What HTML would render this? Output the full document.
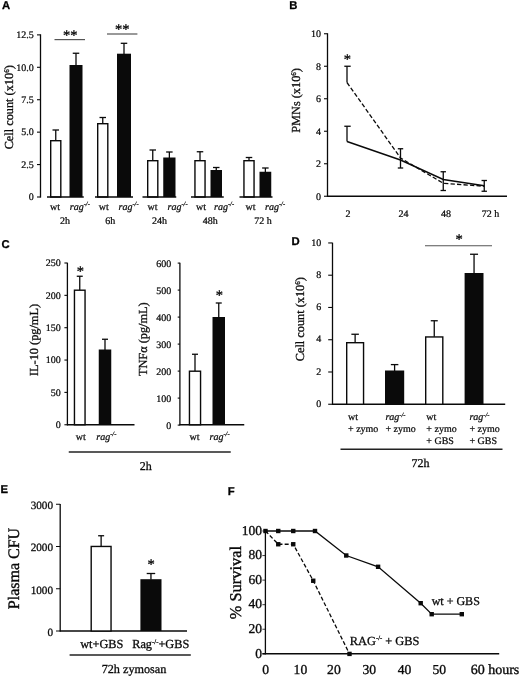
<!DOCTYPE html>
<html><head><meta charset="utf-8"><title>Figure</title>
<style>
html,body{margin:0;padding:0;background:#fff;}
body{width:520px;height:676px;overflow:hidden;font-family:"Liberation Serif",serif;}
svg{display:block;filter:blur(0.4px);}
text{white-space:pre;text-rendering:geometricPrecision;}
</style></head><body>
<svg width="520" height="676" viewBox="0 0 520 676">
<rect x="0" y="0" width="520" height="676" fill="#fff"/>
<text x="1.9" y="9.4" font-family='"Liberation Sans", sans-serif' font-size="11.3" text-anchor="start" font-weight="bold" font-style="normal" fill="#000" stroke="#000" stroke-width="0.271">A</text>
<text x="289.2" y="9.2" font-family='"Liberation Sans", sans-serif' font-size="11.3" text-anchor="start" font-weight="bold" font-style="normal" fill="#000" stroke="#000" stroke-width="0.271">B</text>
<text x="1.6" y="247.6" font-family='"Liberation Sans", sans-serif' font-size="11.3" text-anchor="start" font-weight="bold" font-style="normal" fill="#000" stroke="#000" stroke-width="0.271">C</text>
<text x="291.4" y="245.2" font-family='"Liberation Sans", sans-serif' font-size="11.3" text-anchor="start" font-weight="bold" font-style="normal" fill="#000" stroke="#000" stroke-width="0.271">D</text>
<text x="0.6" y="493" font-family='"Liberation Sans", sans-serif' font-size="11.3" text-anchor="start" font-weight="bold" font-style="normal" fill="#000" stroke="#000" stroke-width="0.271">E</text>
<text x="227.7" y="494.5" font-family='"Liberation Sans", sans-serif' font-size="11.3" text-anchor="start" font-weight="bold" font-style="normal" fill="#000" stroke="#000" stroke-width="0.271">F</text>
<line x1="40.5" y1="34.3" x2="40.5" y2="197.6" stroke="#0a0a0a" stroke-width="1.3" stroke-linecap="butt"/>
<line x1="37.0" y1="34.875" x2="40.5" y2="34.875" stroke="#0a0a0a" stroke-width="1.1" stroke-linecap="butt"/>
<text x="33.8" y="38.175" font-family='"Liberation Serif", serif' font-size="10" text-anchor="end" font-weight="normal" font-style="normal" fill="#0a0a0a" stroke="#0a0a0a" stroke-width="0.24">12.5</text>
<line x1="37.0" y1="67.29999999999998" x2="40.5" y2="67.29999999999998" stroke="#0a0a0a" stroke-width="1.1" stroke-linecap="butt"/>
<text x="33.8" y="70.59999999999998" font-family='"Liberation Serif", serif' font-size="10" text-anchor="end" font-weight="normal" font-style="normal" fill="#0a0a0a" stroke="#0a0a0a" stroke-width="0.24">10.0</text>
<line x1="37.0" y1="99.725" x2="40.5" y2="99.725" stroke="#0a0a0a" stroke-width="1.1" stroke-linecap="butt"/>
<text x="33.8" y="103.02499999999999" font-family='"Liberation Serif", serif' font-size="10" text-anchor="end" font-weight="normal" font-style="normal" fill="#0a0a0a" stroke="#0a0a0a" stroke-width="0.24">7.5</text>
<line x1="37.0" y1="132.14999999999998" x2="40.5" y2="132.14999999999998" stroke="#0a0a0a" stroke-width="1.1" stroke-linecap="butt"/>
<text x="33.8" y="135.45" font-family='"Liberation Serif", serif' font-size="10" text-anchor="end" font-weight="normal" font-style="normal" fill="#0a0a0a" stroke="#0a0a0a" stroke-width="0.24">5.0</text>
<line x1="37.0" y1="164.575" x2="40.5" y2="164.575" stroke="#0a0a0a" stroke-width="1.1" stroke-linecap="butt"/>
<text x="33.8" y="167.875" font-family='"Liberation Serif", serif' font-size="10" text-anchor="end" font-weight="normal" font-style="normal" fill="#0a0a0a" stroke="#0a0a0a" stroke-width="0.24">2.5</text>
<line x1="37.0" y1="197.0" x2="40.5" y2="197.0" stroke="#0a0a0a" stroke-width="1.1" stroke-linecap="butt"/>
<text x="33.8" y="200.3" font-family='"Liberation Serif", serif' font-size="10" text-anchor="end" font-weight="normal" font-style="normal" fill="#0a0a0a" stroke="#0a0a0a" stroke-width="0.24">0</text>
<text x="13.3" y="107.3" font-family='"Liberation Serif", serif' font-size="12.3" text-anchor="middle" font-weight="normal" font-style="normal" fill="#0a0a0a" stroke="#0a0a0a" stroke-width="0.295" transform="rotate(-90 13.3 107.3)">Cell count (x10<tspan font-size="7" dy="-4.3">6</tspan><tspan dy="4.3">)</tspan></text>
<rect x="50.7" y="140.7" width="10.1" height="56.3" fill="#fff" stroke="#0a0a0a" stroke-width="1.4"/>
<line x1="55.75" y1="130" x2="55.75" y2="140.5" stroke="#0a0a0a" stroke-width="1.3" stroke-linecap="butt"/>
<line x1="52.5" y1="130" x2="59.0" y2="130" stroke="#0a0a0a" stroke-width="1.3" stroke-linecap="butt"/>
<rect x="69.5" y="65" width="13.0" height="132" fill="#0a0a0a"/>
<line x1="76.0" y1="53.25" x2="76.0" y2="65.5" stroke="#0a0a0a" stroke-width="1.3" stroke-linecap="butt"/>
<line x1="72.75" y1="53.25" x2="79.25" y2="53.25" stroke="#0a0a0a" stroke-width="1.3" stroke-linecap="butt"/>
<rect x="97.7" y="123.7" width="10.1" height="73.3" fill="#fff" stroke="#0a0a0a" stroke-width="1.4"/>
<line x1="102.75" y1="117.5" x2="102.75" y2="123.5" stroke="#0a0a0a" stroke-width="1.3" stroke-linecap="butt"/>
<line x1="99.5" y1="117.5" x2="106.0" y2="117.5" stroke="#0a0a0a" stroke-width="1.3" stroke-linecap="butt"/>
<rect x="117" y="53.7" width="14" height="143.3" fill="#0a0a0a"/>
<line x1="124.0" y1="43.3" x2="124.0" y2="54.2" stroke="#0a0a0a" stroke-width="1.3" stroke-linecap="butt"/>
<line x1="120.75" y1="43.3" x2="127.25" y2="43.3" stroke="#0a0a0a" stroke-width="1.3" stroke-linecap="butt"/>
<rect x="147.7" y="160.7" width="10.1" height="36.3" fill="#fff" stroke="#0a0a0a" stroke-width="1.4"/>
<line x1="152.75" y1="150" x2="152.75" y2="160.5" stroke="#0a0a0a" stroke-width="1.3" stroke-linecap="butt"/>
<line x1="149.5" y1="150" x2="156.0" y2="150" stroke="#0a0a0a" stroke-width="1.3" stroke-linecap="butt"/>
<rect x="163.25" y="157.5" width="12.25" height="39.5" fill="#0a0a0a"/>
<line x1="169.375" y1="152" x2="169.375" y2="158.0" stroke="#0a0a0a" stroke-width="1.3" stroke-linecap="butt"/>
<line x1="166.125" y1="152" x2="172.625" y2="152" stroke="#0a0a0a" stroke-width="1.3" stroke-linecap="butt"/>
<rect x="194.95" y="160.7" width="10.1" height="36.3" fill="#fff" stroke="#0a0a0a" stroke-width="1.4"/>
<line x1="200.0" y1="151.75" x2="200.0" y2="160.5" stroke="#0a0a0a" stroke-width="1.3" stroke-linecap="butt"/>
<line x1="196.75" y1="151.75" x2="203.25" y2="151.75" stroke="#0a0a0a" stroke-width="1.3" stroke-linecap="butt"/>
<rect x="210.5" y="170" width="11.5" height="27" fill="#0a0a0a"/>
<line x1="216.25" y1="167.5" x2="216.25" y2="170.5" stroke="#0a0a0a" stroke-width="1.3" stroke-linecap="butt"/>
<line x1="213.0" y1="167.5" x2="219.5" y2="167.5" stroke="#0a0a0a" stroke-width="1.3" stroke-linecap="butt"/>
<rect x="243.95" y="160.7" width="10.1" height="36.3" fill="#fff" stroke="#0a0a0a" stroke-width="1.4"/>
<line x1="249.0" y1="157.5" x2="249.0" y2="160.5" stroke="#0a0a0a" stroke-width="1.3" stroke-linecap="butt"/>
<line x1="245.75" y1="157.5" x2="252.25" y2="157.5" stroke="#0a0a0a" stroke-width="1.3" stroke-linecap="butt"/>
<rect x="259.5" y="171.75" width="11.75" height="25.25" fill="#0a0a0a"/>
<line x1="265.375" y1="168" x2="265.375" y2="172.25" stroke="#0a0a0a" stroke-width="1.3" stroke-linecap="butt"/>
<line x1="262.125" y1="168" x2="268.625" y2="168" stroke="#0a0a0a" stroke-width="1.3" stroke-linecap="butt"/>
<line x1="47" y1="197" x2="83.75" y2="197" stroke="#0a0a0a" stroke-width="1.3" stroke-linecap="butt"/>
<line x1="95" y1="197" x2="133" y2="197" stroke="#0a0a0a" stroke-width="1.3" stroke-linecap="butt"/>
<line x1="142.5" y1="197" x2="176.25" y2="197" stroke="#0a0a0a" stroke-width="1.3" stroke-linecap="butt"/>
<line x1="191" y1="197" x2="223.75" y2="197" stroke="#0a0a0a" stroke-width="1.3" stroke-linecap="butt"/>
<line x1="239.5" y1="197" x2="272.5" y2="197" stroke="#0a0a0a" stroke-width="1.3" stroke-linecap="butt"/>
<line x1="54.5" y1="39.6" x2="85" y2="39.6" stroke="#555" stroke-width="1.2" stroke-linecap="butt"/>
<line x1="107" y1="34" x2="137.4" y2="34" stroke="#555" stroke-width="1.2" stroke-linecap="butt"/>
<text x="70.2" y="40.2" font-family='"Liberation Serif", serif' font-size="14.5" text-anchor="middle" font-weight="normal" font-style="normal" fill="#0a0a0a" stroke="#0a0a0a" stroke-width="0.348">**</text>
<text x="122.2" y="34.4" font-family='"Liberation Serif", serif' font-size="14.5" text-anchor="middle" font-weight="normal" font-style="normal" fill="#0a0a0a" stroke="#0a0a0a" stroke-width="0.348">**</text>
<text x="50" y="210" font-family='"Liberation Serif", serif' font-size="10" text-anchor="start" font-weight="normal" font-style="normal" fill="#0a0a0a" stroke="#0a0a0a" stroke-width="0.24">wt</text>
<text x="98.7" y="210" font-family='"Liberation Serif", serif' font-size="10" text-anchor="start" font-weight="normal" font-style="normal" fill="#0a0a0a" stroke="#0a0a0a" stroke-width="0.24">wt</text>
<text x="147.5" y="210" font-family='"Liberation Serif", serif' font-size="10" text-anchor="start" font-weight="normal" font-style="normal" fill="#0a0a0a" stroke="#0a0a0a" stroke-width="0.24">wt</text>
<text x="196" y="210" font-family='"Liberation Serif", serif' font-size="10" text-anchor="start" font-weight="normal" font-style="normal" fill="#0a0a0a" stroke="#0a0a0a" stroke-width="0.24">wt</text>
<text x="245.5" y="210" font-family='"Liberation Serif", serif' font-size="10" text-anchor="start" font-weight="normal" font-style="normal" fill="#0a0a0a" stroke="#0a0a0a" stroke-width="0.24">wt</text>
<text x="69.8" y="210" font-family='"Liberation Serif", serif' font-size="10" text-anchor="start" font-weight="normal" font-style="normal" fill="#0a0a0a" stroke="#0a0a0a" stroke-width="0.24"><tspan font-style="italic">rag</tspan><tspan font-style="italic" font-size="6.5" dy="-3.5999999999999996">-/-</tspan></text>
<text x="118.5" y="210" font-family='"Liberation Serif", serif' font-size="10" text-anchor="start" font-weight="normal" font-style="normal" fill="#0a0a0a" stroke="#0a0a0a" stroke-width="0.24"><tspan font-style="italic">rag</tspan><tspan font-style="italic" font-size="6.5" dy="-3.5999999999999996">-/-</tspan></text>
<text x="167.5" y="210" font-family='"Liberation Serif", serif' font-size="10" text-anchor="start" font-weight="normal" font-style="normal" fill="#0a0a0a" stroke="#0a0a0a" stroke-width="0.24"><tspan font-style="italic">rag</tspan><tspan font-style="italic" font-size="6.5" dy="-3.5999999999999996">-/-</tspan></text>
<text x="214" y="210" font-family='"Liberation Serif", serif' font-size="10" text-anchor="start" font-weight="normal" font-style="normal" fill="#0a0a0a" stroke="#0a0a0a" stroke-width="0.24"><tspan font-style="italic">rag</tspan><tspan font-style="italic" font-size="6.5" dy="-3.5999999999999996">-/-</tspan></text>
<text x="265" y="210" font-family='"Liberation Serif", serif' font-size="10" text-anchor="start" font-weight="normal" font-style="normal" fill="#0a0a0a" stroke="#0a0a0a" stroke-width="0.24"><tspan font-style="italic">rag</tspan><tspan font-style="italic" font-size="6.5" dy="-3.5999999999999996">-/-</tspan></text>
<text x="65" y="224" font-family='"Liberation Serif", serif' font-size="10" text-anchor="middle" font-weight="normal" font-style="normal" fill="#0a0a0a" stroke="#0a0a0a" stroke-width="0.24">2h</text>
<text x="110.2" y="224" font-family='"Liberation Serif", serif' font-size="10" text-anchor="middle" font-weight="normal" font-style="normal" fill="#0a0a0a" stroke="#0a0a0a" stroke-width="0.24">6h</text>
<text x="159.5" y="224" font-family='"Liberation Serif", serif' font-size="10" text-anchor="middle" font-weight="normal" font-style="normal" fill="#0a0a0a" stroke="#0a0a0a" stroke-width="0.24">24h</text>
<text x="210.2" y="224" font-family='"Liberation Serif", serif' font-size="10" text-anchor="middle" font-weight="normal" font-style="normal" fill="#0a0a0a" stroke="#0a0a0a" stroke-width="0.24">48h</text>
<text x="263" y="224" font-family='"Liberation Serif", serif' font-size="10" text-anchor="middle" font-weight="normal" font-style="normal" fill="#0a0a0a" stroke="#0a0a0a" stroke-width="0.24">72 h</text>
<line x1="327.5" y1="33.25" x2="327.5" y2="196.85" stroke="#0a0a0a" stroke-width="1.3" stroke-linecap="butt"/>
<line x1="327.0" y1="196.25" x2="507" y2="196.25" stroke="#0a0a0a" stroke-width="1.3" stroke-linecap="butt"/>
<line x1="324.0" y1="196.25" x2="327.5" y2="196.25" stroke="#0a0a0a" stroke-width="1.1" stroke-linecap="butt"/>
<text x="321" y="199.65" font-family='"Liberation Serif", serif' font-size="10" text-anchor="end" font-weight="normal" font-style="normal" fill="#0a0a0a" stroke="#0a0a0a" stroke-width="0.24">0</text>
<line x1="324.0" y1="163.75" x2="327.5" y2="163.75" stroke="#0a0a0a" stroke-width="1.1" stroke-linecap="butt"/>
<text x="321" y="167.15" font-family='"Liberation Serif", serif' font-size="10" text-anchor="end" font-weight="normal" font-style="normal" fill="#0a0a0a" stroke="#0a0a0a" stroke-width="0.24">2</text>
<line x1="324.0" y1="131.25" x2="327.5" y2="131.25" stroke="#0a0a0a" stroke-width="1.1" stroke-linecap="butt"/>
<text x="321" y="134.65" font-family='"Liberation Serif", serif' font-size="10" text-anchor="end" font-weight="normal" font-style="normal" fill="#0a0a0a" stroke="#0a0a0a" stroke-width="0.24">4</text>
<line x1="324.0" y1="98.75" x2="327.5" y2="98.75" stroke="#0a0a0a" stroke-width="1.1" stroke-linecap="butt"/>
<text x="321" y="102.15" font-family='"Liberation Serif", serif' font-size="10" text-anchor="end" font-weight="normal" font-style="normal" fill="#0a0a0a" stroke="#0a0a0a" stroke-width="0.24">6</text>
<line x1="324.0" y1="66.25" x2="327.5" y2="66.25" stroke="#0a0a0a" stroke-width="1.1" stroke-linecap="butt"/>
<text x="321" y="69.65" font-family='"Liberation Serif", serif' font-size="10" text-anchor="end" font-weight="normal" font-style="normal" fill="#0a0a0a" stroke="#0a0a0a" stroke-width="0.24">8</text>
<line x1="324.0" y1="33.75" x2="327.5" y2="33.75" stroke="#0a0a0a" stroke-width="1.1" stroke-linecap="butt"/>
<text x="321" y="37.15" font-family='"Liberation Serif", serif' font-size="10" text-anchor="end" font-weight="normal" font-style="normal" fill="#0a0a0a" stroke="#0a0a0a" stroke-width="0.24">10</text>
<text x="300.4" y="100.4" font-family='"Liberation Serif", serif' font-size="12.3" text-anchor="middle" font-weight="normal" font-style="normal" fill="#0a0a0a" stroke="#0a0a0a" stroke-width="0.295" transform="rotate(-90 300.4 100.4)">PMNs (x10<tspan font-size="7" dy="-4.3">6</tspan><tspan dy="4.3">)</tspan></text>
<polyline fill="none" stroke="#0a0a0a" stroke-width="1.4" points="347,141.5 400.5,160 443.25,179.5 484.25,185.75"/>
<polyline fill="none" stroke="#0a0a0a" stroke-width="1.3" stroke-dasharray="4.3 2.2" points="347,82.5 400.5,158 443.25,183.25 484.25,186.25"/>
<line x1="347" y1="66.25" x2="347" y2="82.5" stroke="#0a0a0a" stroke-width="1.3" stroke-linecap="butt"/>
<line x1="344.3" y1="66.25" x2="350.7" y2="66.25" stroke="#0a0a0a" stroke-width="1.3" stroke-linecap="butt"/>
<line x1="347" y1="126.25" x2="347" y2="141.5" stroke="#0a0a0a" stroke-width="1.3" stroke-linecap="butt"/>
<line x1="344.3" y1="126.25" x2="350.7" y2="126.25" stroke="#0a0a0a" stroke-width="1.3" stroke-linecap="butt"/>
<line x1="400.5" y1="148.75" x2="400.5" y2="168" stroke="#0a0a0a" stroke-width="1.3" stroke-linecap="butt"/>
<line x1="397.8" y1="148.75" x2="403.2" y2="148.75" stroke="#0a0a0a" stroke-width="1.3" stroke-linecap="butt"/>
<line x1="397.8" y1="168" x2="403.2" y2="168" stroke="#0a0a0a" stroke-width="1.3" stroke-linecap="butt"/>
<line x1="443.25" y1="171.75" x2="443.25" y2="190.5" stroke="#0a0a0a" stroke-width="1.3" stroke-linecap="butt"/>
<line x1="440.55" y1="171.75" x2="445.95" y2="171.75" stroke="#0a0a0a" stroke-width="1.3" stroke-linecap="butt"/>
<line x1="440.55" y1="190.5" x2="445.95" y2="190.5" stroke="#0a0a0a" stroke-width="1.3" stroke-linecap="butt"/>
<line x1="484.25" y1="180.5" x2="484.25" y2="191.25" stroke="#0a0a0a" stroke-width="1.3" stroke-linecap="butt"/>
<line x1="481.55" y1="180.5" x2="486.95" y2="180.5" stroke="#0a0a0a" stroke-width="1.3" stroke-linecap="butt"/>
<line x1="481.55" y1="191.25" x2="486.95" y2="191.25" stroke="#0a0a0a" stroke-width="1.3" stroke-linecap="butt"/>
<text x="347.4" y="64.3" font-family='"Liberation Serif", serif' font-size="14.5" text-anchor="middle" font-weight="normal" font-style="normal" fill="#0a0a0a" stroke="#0a0a0a" stroke-width="0.348">*</text>
<text x="348" y="217" font-family='"Liberation Serif", serif' font-size="10" text-anchor="middle" font-weight="normal" font-style="normal" fill="#0a0a0a" stroke="#0a0a0a" stroke-width="0.24">2</text>
<text x="403.5" y="217" font-family='"Liberation Serif", serif' font-size="10" text-anchor="middle" font-weight="normal" font-style="normal" fill="#0a0a0a" stroke="#0a0a0a" stroke-width="0.24">24</text>
<text x="446" y="217" font-family='"Liberation Serif", serif' font-size="10" text-anchor="middle" font-weight="normal" font-style="normal" fill="#0a0a0a" stroke="#0a0a0a" stroke-width="0.24">48</text>
<text x="490.5" y="217" font-family='"Liberation Serif", serif' font-size="10" text-anchor="middle" font-weight="normal" font-style="normal" fill="#0a0a0a" stroke="#0a0a0a" stroke-width="0.24">72 h</text>
<line x1="67.4" y1="262.75" x2="67.4" y2="425.35" stroke="#0a0a0a" stroke-width="1.3" stroke-linecap="butt"/>
<line x1="66.9" y1="424.75" x2="134.5" y2="424.75" stroke="#0a0a0a" stroke-width="1.3" stroke-linecap="butt"/>
<line x1="64.4" y1="424.75" x2="67.4" y2="424.75" stroke="#0a0a0a" stroke-width="1.1" stroke-linecap="butt"/>
<text x="60.8" y="428.15" font-family='"Liberation Serif", serif' font-size="10" text-anchor="end" font-weight="normal" font-style="normal" fill="#0a0a0a" stroke="#0a0a0a" stroke-width="0.24">0</text>
<line x1="64.4" y1="392.4" x2="67.4" y2="392.4" stroke="#0a0a0a" stroke-width="1.1" stroke-linecap="butt"/>
<text x="60.8" y="395.79999999999995" font-family='"Liberation Serif", serif' font-size="10" text-anchor="end" font-weight="normal" font-style="normal" fill="#0a0a0a" stroke="#0a0a0a" stroke-width="0.24">50</text>
<line x1="64.4" y1="360.05" x2="67.4" y2="360.05" stroke="#0a0a0a" stroke-width="1.1" stroke-linecap="butt"/>
<text x="60.8" y="363.45" font-family='"Liberation Serif", serif' font-size="10" text-anchor="end" font-weight="normal" font-style="normal" fill="#0a0a0a" stroke="#0a0a0a" stroke-width="0.24">100</text>
<line x1="64.4" y1="327.7" x2="67.4" y2="327.7" stroke="#0a0a0a" stroke-width="1.1" stroke-linecap="butt"/>
<text x="60.8" y="331.09999999999997" font-family='"Liberation Serif", serif' font-size="10" text-anchor="end" font-weight="normal" font-style="normal" fill="#0a0a0a" stroke="#0a0a0a" stroke-width="0.24">150</text>
<line x1="64.4" y1="295.35" x2="67.4" y2="295.35" stroke="#0a0a0a" stroke-width="1.1" stroke-linecap="butt"/>
<text x="60.8" y="298.75" font-family='"Liberation Serif", serif' font-size="10" text-anchor="end" font-weight="normal" font-style="normal" fill="#0a0a0a" stroke="#0a0a0a" stroke-width="0.24">200</text>
<line x1="64.4" y1="263.0" x2="67.4" y2="263.0" stroke="#0a0a0a" stroke-width="1.1" stroke-linecap="butt"/>
<text x="60.8" y="266.4" font-family='"Liberation Serif", serif' font-size="10" text-anchor="end" font-weight="normal" font-style="normal" fill="#0a0a0a" stroke="#0a0a0a" stroke-width="0.24">250</text>
<text x="37.5" y="340" font-family='"Liberation Serif", serif' font-size="12.3" text-anchor="middle" font-weight="normal" font-style="normal" fill="#0a0a0a" stroke="#0a0a0a" stroke-width="0.295" transform="rotate(-90 37.5 340)">IL-10 (pg/mL)</text>
<rect x="74.45" y="290.2" width="10.6" height="134.55" fill="#fff" stroke="#0a0a0a" stroke-width="1.4"/>
<line x1="79.75" y1="276.25" x2="79.75" y2="290.0" stroke="#0a0a0a" stroke-width="1.3" stroke-linecap="butt"/>
<line x1="76.75" y1="276.25" x2="82.75" y2="276.25" stroke="#0a0a0a" stroke-width="1.3" stroke-linecap="butt"/>
<rect x="98.75" y="349.5" width="12.5" height="75.25" fill="#0a0a0a"/>
<line x1="105.0" y1="339.25" x2="105.0" y2="350.0" stroke="#0a0a0a" stroke-width="1.3" stroke-linecap="butt"/>
<line x1="102.0" y1="339.25" x2="108.0" y2="339.25" stroke="#0a0a0a" stroke-width="1.3" stroke-linecap="butt"/>
<text x="80.4" y="276" font-family='"Liberation Serif", serif' font-size="14.5" text-anchor="middle" font-weight="normal" font-style="normal" fill="#0a0a0a" stroke="#0a0a0a" stroke-width="0.348">*</text>
<text x="75.75" y="439.5" font-family='"Liberation Serif", serif' font-size="10" text-anchor="start" font-weight="normal" font-style="normal" fill="#0a0a0a" stroke="#0a0a0a" stroke-width="0.24">wt</text>
<text x="96.25" y="439.5" font-family='"Liberation Serif", serif' font-size="10" text-anchor="start" font-weight="normal" font-style="normal" fill="#0a0a0a" stroke="#0a0a0a" stroke-width="0.24"><tspan font-style="italic">rag</tspan><tspan font-style="italic" font-size="6.5" dy="-3.5999999999999996">-/-</tspan></text>
<line x1="179.9" y1="262.75" x2="179.9" y2="425.35" stroke="#0a0a0a" stroke-width="1.3" stroke-linecap="butt"/>
<line x1="179.4" y1="424.75" x2="244.25" y2="424.75" stroke="#0a0a0a" stroke-width="1.3" stroke-linecap="butt"/>
<line x1="177.70000000000002" y1="425.1" x2="179.9" y2="425.1" stroke="#0a0a0a" stroke-width="1.1" stroke-linecap="butt"/>
<text x="171.2" y="428.5" font-family='"Liberation Serif", serif' font-size="10" text-anchor="end" font-weight="normal" font-style="normal" fill="#0a0a0a" stroke="#0a0a0a" stroke-width="0.24">0</text>
<line x1="177.70000000000002" y1="398.1" x2="179.9" y2="398.1" stroke="#0a0a0a" stroke-width="1.1" stroke-linecap="butt"/>
<text x="171.2" y="401.5" font-family='"Liberation Serif", serif' font-size="10" text-anchor="end" font-weight="normal" font-style="normal" fill="#0a0a0a" stroke="#0a0a0a" stroke-width="0.24">100</text>
<line x1="177.70000000000002" y1="371.1" x2="179.9" y2="371.1" stroke="#0a0a0a" stroke-width="1.1" stroke-linecap="butt"/>
<text x="171.2" y="374.5" font-family='"Liberation Serif", serif' font-size="10" text-anchor="end" font-weight="normal" font-style="normal" fill="#0a0a0a" stroke="#0a0a0a" stroke-width="0.24">200</text>
<line x1="177.70000000000002" y1="344.1" x2="179.9" y2="344.1" stroke="#0a0a0a" stroke-width="1.1" stroke-linecap="butt"/>
<text x="171.2" y="347.5" font-family='"Liberation Serif", serif' font-size="10" text-anchor="end" font-weight="normal" font-style="normal" fill="#0a0a0a" stroke="#0a0a0a" stroke-width="0.24">300</text>
<line x1="177.70000000000002" y1="317.1" x2="179.9" y2="317.1" stroke="#0a0a0a" stroke-width="1.1" stroke-linecap="butt"/>
<text x="171.2" y="320.5" font-family='"Liberation Serif", serif' font-size="10" text-anchor="end" font-weight="normal" font-style="normal" fill="#0a0a0a" stroke="#0a0a0a" stroke-width="0.24">400</text>
<line x1="177.70000000000002" y1="290.1" x2="179.9" y2="290.1" stroke="#0a0a0a" stroke-width="1.1" stroke-linecap="butt"/>
<text x="171.2" y="293.5" font-family='"Liberation Serif", serif' font-size="10" text-anchor="end" font-weight="normal" font-style="normal" fill="#0a0a0a" stroke="#0a0a0a" stroke-width="0.24">500</text>
<line x1="177.70000000000002" y1="263.1" x2="179.9" y2="263.1" stroke="#0a0a0a" stroke-width="1.1" stroke-linecap="butt"/>
<text x="171.2" y="266.5" font-family='"Liberation Serif", serif' font-size="10" text-anchor="end" font-weight="normal" font-style="normal" fill="#0a0a0a" stroke="#0a0a0a" stroke-width="0.24">600</text>
<text x="146.6" y="339.2" font-family='"Liberation Serif", serif' font-size="12.3" text-anchor="middle" font-weight="normal" font-style="normal" fill="#0a0a0a" stroke="#0a0a0a" stroke-width="0.295" transform="rotate(-90 146.6 339.2)">TNF&#945; (pg/mL)</text>
<rect x="189.45" y="371.2" width="11.1" height="53.55" fill="#fff" stroke="#0a0a0a" stroke-width="1.4"/>
<line x1="195.0" y1="354.25" x2="195.0" y2="371.0" stroke="#0a0a0a" stroke-width="1.3" stroke-linecap="butt"/>
<line x1="192.0" y1="354.25" x2="198.0" y2="354.25" stroke="#0a0a0a" stroke-width="1.3" stroke-linecap="butt"/>
<rect x="212.5" y="317" width="12.5" height="107.75" fill="#0a0a0a"/>
<line x1="218.75" y1="303" x2="218.75" y2="317.5" stroke="#0a0a0a" stroke-width="1.3" stroke-linecap="butt"/>
<line x1="215.75" y1="303" x2="221.75" y2="303" stroke="#0a0a0a" stroke-width="1.3" stroke-linecap="butt"/>
<text x="219.3" y="300.1" font-family='"Liberation Serif", serif' font-size="14.5" text-anchor="middle" font-weight="normal" font-style="normal" fill="#0a0a0a" stroke="#0a0a0a" stroke-width="0.348">*</text>
<text x="189.5" y="439.5" font-family='"Liberation Serif", serif' font-size="10" text-anchor="start" font-weight="normal" font-style="normal" fill="#0a0a0a" stroke="#0a0a0a" stroke-width="0.24">wt</text>
<text x="209.5" y="439.5" font-family='"Liberation Serif", serif' font-size="10" text-anchor="start" font-weight="normal" font-style="normal" fill="#0a0a0a" stroke="#0a0a0a" stroke-width="0.24"><tspan font-style="italic">rag</tspan><tspan font-style="italic" font-size="6.5" dy="-3.5999999999999996">-/-</tspan></text>
<line x1="68.75" y1="452" x2="230.75" y2="452" stroke="#222" stroke-width="1.4" stroke-linecap="butt"/>
<text x="145.8" y="469.5" font-family='"Liberation Serif", serif' font-size="12" text-anchor="middle" font-weight="normal" font-style="normal" fill="#0a0a0a" stroke="#0a0a0a" stroke-width="0.288">2h</text>
<line x1="332.5" y1="242.75" x2="332.5" y2="404.85" stroke="#0a0a0a" stroke-width="1.3" stroke-linecap="butt"/>
<line x1="332.0" y1="404.25" x2="505.2" y2="404.25" stroke="#0a0a0a" stroke-width="1.3" stroke-linecap="butt"/>
<line x1="328.2" y1="404.25" x2="332.5" y2="404.25" stroke="#0a0a0a" stroke-width="1.1" stroke-linecap="butt"/>
<text x="321.3" y="406.95" font-family='"Liberation Serif", serif' font-size="10" text-anchor="end" font-weight="normal" font-style="normal" fill="#0a0a0a" stroke="#0a0a0a" stroke-width="0.24">0</text>
<line x1="328.2" y1="371.99" x2="332.5" y2="371.99" stroke="#0a0a0a" stroke-width="1.1" stroke-linecap="butt"/>
<text x="321.3" y="374.69" font-family='"Liberation Serif", serif' font-size="10" text-anchor="end" font-weight="normal" font-style="normal" fill="#0a0a0a" stroke="#0a0a0a" stroke-width="0.24">2</text>
<line x1="328.2" y1="339.73" x2="332.5" y2="339.73" stroke="#0a0a0a" stroke-width="1.1" stroke-linecap="butt"/>
<text x="321.3" y="342.43" font-family='"Liberation Serif", serif' font-size="10" text-anchor="end" font-weight="normal" font-style="normal" fill="#0a0a0a" stroke="#0a0a0a" stroke-width="0.24">4</text>
<line x1="328.2" y1="307.47" x2="332.5" y2="307.47" stroke="#0a0a0a" stroke-width="1.1" stroke-linecap="butt"/>
<text x="321.3" y="310.17" font-family='"Liberation Serif", serif' font-size="10" text-anchor="end" font-weight="normal" font-style="normal" fill="#0a0a0a" stroke="#0a0a0a" stroke-width="0.24">6</text>
<line x1="328.2" y1="275.21000000000004" x2="332.5" y2="275.21000000000004" stroke="#0a0a0a" stroke-width="1.1" stroke-linecap="butt"/>
<text x="321.3" y="277.91" font-family='"Liberation Serif", serif' font-size="10" text-anchor="end" font-weight="normal" font-style="normal" fill="#0a0a0a" stroke="#0a0a0a" stroke-width="0.24">8</text>
<line x1="328.2" y1="242.95000000000002" x2="332.5" y2="242.95000000000002" stroke="#0a0a0a" stroke-width="1.1" stroke-linecap="butt"/>
<text x="321.3" y="245.65" font-family='"Liberation Serif", serif' font-size="10" text-anchor="end" font-weight="normal" font-style="normal" fill="#0a0a0a" stroke="#0a0a0a" stroke-width="0.24">10</text>
<text x="304.2" y="319.2" font-family='"Liberation Serif", serif' font-size="12.3" text-anchor="middle" font-weight="normal" font-style="normal" fill="#0a0a0a" stroke="#0a0a0a" stroke-width="0.295" transform="rotate(-90 304.2 319.2)">Cell count (x10<tspan font-size="7" dy="-4.3">6</tspan><tspan dy="4.3">)</tspan></text>
<rect x="346.7" y="342.7" width="16.85" height="61.55" fill="#fff" stroke="#0a0a0a" stroke-width="1.4"/>
<line x1="355.125" y1="334.25" x2="355.125" y2="342.5" stroke="#0a0a0a" stroke-width="1.3" stroke-linecap="butt"/>
<line x1="351.375" y1="334.25" x2="358.875" y2="334.25" stroke="#0a0a0a" stroke-width="1.3" stroke-linecap="butt"/>
<rect x="385" y="370.5" width="19.19999999999999" height="33.75" fill="#0a0a0a"/>
<line x1="394.6" y1="364.6" x2="394.6" y2="371.0" stroke="#0a0a0a" stroke-width="1.3" stroke-linecap="butt"/>
<line x1="390.85" y1="364.6" x2="398.35" y2="364.6" stroke="#0a0a0a" stroke-width="1.3" stroke-linecap="butt"/>
<rect x="425.7" y="336.95" width="17.1" height="67.3" fill="#fff" stroke="#0a0a0a" stroke-width="1.4"/>
<line x1="434.25" y1="320.75" x2="434.25" y2="336.75" stroke="#0a0a0a" stroke-width="1.3" stroke-linecap="butt"/>
<line x1="430.75" y1="320.75" x2="437.75" y2="320.75" stroke="#0a0a0a" stroke-width="1.3" stroke-linecap="butt"/>
<rect x="464.6" y="273" width="18.899999999999977" height="131.25" fill="#0a0a0a"/>
<line x1="474.05" y1="254.25" x2="474.05" y2="273.5" stroke="#0a0a0a" stroke-width="1.3" stroke-linecap="butt"/>
<line x1="470.05" y1="254.25" x2="478.05" y2="254.25" stroke="#0a0a0a" stroke-width="1.3" stroke-linecap="butt"/>
<line x1="425" y1="245.75" x2="492" y2="245.75" stroke="#555" stroke-width="1.2" stroke-linecap="butt"/>
<text x="459" y="244.3" font-family='"Liberation Serif", serif' font-size="14.5" text-anchor="middle" font-weight="normal" font-style="normal" fill="#0a0a0a" stroke="#0a0a0a" stroke-width="0.348">*</text>
<text x="348" y="420.3" font-family='"Liberation Serif", serif' font-size="10" text-anchor="start" font-weight="normal" font-style="normal" fill="#0a0a0a" stroke="#0a0a0a" stroke-width="0.24">wt</text>
<text x="348" y="431.8" font-family='"Liberation Serif", serif' font-size="10" text-anchor="start" font-weight="normal" font-style="normal" fill="#0a0a0a" stroke="#0a0a0a" stroke-width="0.24">+ zymo</text>
<text x="385.4" y="420.3" font-family='"Liberation Serif", serif' font-size="10" text-anchor="start" font-weight="normal" font-style="normal" fill="#0a0a0a" stroke="#0a0a0a" stroke-width="0.24"><tspan font-style="italic">rag</tspan><tspan font-style="italic" font-size="6.5" dy="-3.5999999999999996">-/-</tspan></text>
<text x="385.4" y="431.8" font-family='"Liberation Serif", serif' font-size="10" text-anchor="start" font-weight="normal" font-style="normal" fill="#0a0a0a" stroke="#0a0a0a" stroke-width="0.24">+ zymo</text>
<text x="426.3" y="420.3" font-family='"Liberation Serif", serif' font-size="10" text-anchor="start" font-weight="normal" font-style="normal" fill="#0a0a0a" stroke="#0a0a0a" stroke-width="0.24">wt</text>
<text x="426.3" y="431.8" font-family='"Liberation Serif", serif' font-size="10" text-anchor="start" font-weight="normal" font-style="normal" fill="#0a0a0a" stroke="#0a0a0a" stroke-width="0.24">+ zymo</text>
<text x="426.3" y="443.7" font-family='"Liberation Serif", serif' font-size="10" text-anchor="start" font-weight="normal" font-style="normal" fill="#0a0a0a" stroke="#0a0a0a" stroke-width="0.24">+ GBS</text>
<text x="469.4" y="420.3" font-family='"Liberation Serif", serif' font-size="10" text-anchor="start" font-weight="normal" font-style="normal" fill="#0a0a0a" stroke="#0a0a0a" stroke-width="0.24"><tspan font-style="italic">rag</tspan><tspan font-style="italic" font-size="6.5" dy="-3.5999999999999996">-/-</tspan></text>
<text x="469.4" y="431.8" font-family='"Liberation Serif", serif' font-size="10" text-anchor="start" font-weight="normal" font-style="normal" fill="#0a0a0a" stroke="#0a0a0a" stroke-width="0.24">+ zymo</text>
<text x="469.4" y="443.7" font-family='"Liberation Serif", serif' font-size="10" text-anchor="start" font-weight="normal" font-style="normal" fill="#0a0a0a" stroke="#0a0a0a" stroke-width="0.24">+ GBS</text>
<line x1="340.5" y1="449.3" x2="502.5" y2="449.3" stroke="#222" stroke-width="1.4" stroke-linecap="butt"/>
<text x="420.5" y="466.5" font-family='"Liberation Serif", serif' font-size="12" text-anchor="middle" font-weight="normal" font-style="normal" fill="#0a0a0a" stroke="#0a0a0a" stroke-width="0.288">72h</text>
<line x1="60.2" y1="504" x2="60.2" y2="631.6" stroke="#0a0a0a" stroke-width="1.3" stroke-linecap="butt"/>
<line x1="59.7" y1="631" x2="187" y2="631" stroke="#0a0a0a" stroke-width="1.3" stroke-linecap="butt"/>
<line x1="56.0" y1="631.0" x2="60.2" y2="631.0" stroke="#0a0a0a" stroke-width="1" stroke-linecap="butt"/>
<text x="53" y="635.9" font-family='"Liberation Serif", serif' font-size="11.2" text-anchor="end" font-weight="normal" font-style="normal" fill="#0a0a0a" stroke="#0a0a0a" stroke-width="0.269">0</text>
<line x1="56.0" y1="588.75" x2="60.2" y2="588.75" stroke="#0a0a0a" stroke-width="1" stroke-linecap="butt"/>
<text x="53" y="593.65" font-family='"Liberation Serif", serif' font-size="11.2" text-anchor="end" font-weight="normal" font-style="normal" fill="#0a0a0a" stroke="#0a0a0a" stroke-width="0.269">1000</text>
<line x1="56.0" y1="546.5" x2="60.2" y2="546.5" stroke="#0a0a0a" stroke-width="1" stroke-linecap="butt"/>
<text x="53" y="551.4" font-family='"Liberation Serif", serif' font-size="11.2" text-anchor="end" font-weight="normal" font-style="normal" fill="#0a0a0a" stroke="#0a0a0a" stroke-width="0.269">2000</text>
<line x1="56.0" y1="504.25" x2="60.2" y2="504.25" stroke="#0a0a0a" stroke-width="1" stroke-linecap="butt"/>
<text x="53" y="509.15" font-family='"Liberation Serif", serif' font-size="11.2" text-anchor="end" font-weight="normal" font-style="normal" fill="#0a0a0a" stroke="#0a0a0a" stroke-width="0.269">3000</text>
<text x="19.4" y="568.5" font-family='"Liberation Serif", serif' font-size="16" text-anchor="middle" font-weight="normal" font-style="normal" fill="#0a0a0a" stroke="#0a0a0a" stroke-width="0.384" transform="rotate(-90 19.4 568.5)">Plasma CFU</text>
<rect x="91.2" y="546.45" width="19.85" height="84.55" fill="#fff" stroke="#0a0a0a" stroke-width="1.4"/>
<line x1="101.125" y1="535.75" x2="101.125" y2="546.25" stroke="#0a0a0a" stroke-width="1.3" stroke-linecap="butt"/>
<line x1="98.125" y1="535.75" x2="104.125" y2="535.75" stroke="#0a0a0a" stroke-width="1.3" stroke-linecap="butt"/>
<rect x="140.4" y="579.2" width="21.099999999999994" height="51.799999999999955" fill="#0a0a0a"/>
<line x1="150.95" y1="573.5" x2="150.95" y2="579.7" stroke="#0a0a0a" stroke-width="1.3" stroke-linecap="butt"/>
<line x1="146.7" y1="573.5" x2="155.2" y2="573.5" stroke="#0a0a0a" stroke-width="1.3" stroke-linecap="butt"/>
<text x="151.2" y="569" font-family='"Liberation Serif", serif' font-size="14.5" text-anchor="middle" font-weight="normal" font-style="normal" fill="#0a0a0a" stroke="#0a0a0a" stroke-width="0.348">*</text>
<text x="80.2" y="648.2" font-family='"Liberation Serif", serif' font-size="12.3" text-anchor="start" font-weight="normal" font-style="normal" fill="#0a0a0a" stroke="#0a0a0a" stroke-width="0.295">wt+GBS</text>
<text x="132.2" y="648.2" font-family='"Liberation Serif", serif' font-size="12.3" text-anchor="start" font-weight="normal" font-style="normal" fill="#0a0a0a" stroke="#0a0a0a" stroke-width="0.295">Rag<tspan font-size="6.8" dy="-4.6">-/-</tspan><tspan dy="4.6">+GBS</tspan></text>
<line x1="69.6" y1="655" x2="190.8" y2="655" stroke="#222" stroke-width="1.4" stroke-linecap="butt"/>
<text x="134" y="673" font-family='"Liberation Serif", serif' font-size="12.2" text-anchor="middle" font-weight="normal" font-style="normal" fill="#0a0a0a" stroke="#0a0a0a" stroke-width="0.293">72h zymosan</text>
<line x1="265.4" y1="530.5" x2="265.4" y2="654.4" stroke="#0a0a0a" stroke-width="1.3" stroke-linecap="butt"/>
<line x1="262.4" y1="653.8" x2="499.2" y2="653.8" stroke="#0a0a0a" stroke-width="1.5" stroke-linecap="butt"/>
<line x1="262.4" y1="653.8" x2="265.4" y2="653.8" stroke="#0a0a0a" stroke-width="0.8" stroke-linecap="butt"/>
<text x="262" y="657.5" font-family='"Liberation Serif", serif' font-size="13.5" text-anchor="end" font-weight="normal" font-style="normal" fill="#0a0a0a" stroke="#0a0a0a" stroke-width="0.324">0</text>
<line x1="262.4" y1="629.24" x2="265.4" y2="629.24" stroke="#0a0a0a" stroke-width="0.8" stroke-linecap="butt"/>
<text x="262" y="632.94" font-family='"Liberation Serif", serif' font-size="13.5" text-anchor="end" font-weight="normal" font-style="normal" fill="#0a0a0a" stroke="#0a0a0a" stroke-width="0.324">20</text>
<line x1="262.4" y1="604.68" x2="265.4" y2="604.68" stroke="#0a0a0a" stroke-width="0.8" stroke-linecap="butt"/>
<text x="262" y="608.38" font-family='"Liberation Serif", serif' font-size="13.5" text-anchor="end" font-weight="normal" font-style="normal" fill="#0a0a0a" stroke="#0a0a0a" stroke-width="0.324">40</text>
<line x1="262.4" y1="580.12" x2="265.4" y2="580.12" stroke="#0a0a0a" stroke-width="0.8" stroke-linecap="butt"/>
<text x="262" y="583.82" font-family='"Liberation Serif", serif' font-size="13.5" text-anchor="end" font-weight="normal" font-style="normal" fill="#0a0a0a" stroke="#0a0a0a" stroke-width="0.324">60</text>
<line x1="262.4" y1="555.56" x2="265.4" y2="555.56" stroke="#0a0a0a" stroke-width="0.8" stroke-linecap="butt"/>
<text x="262" y="559.26" font-family='"Liberation Serif", serif' font-size="13.5" text-anchor="end" font-weight="normal" font-style="normal" fill="#0a0a0a" stroke="#0a0a0a" stroke-width="0.324">80</text>
<line x1="262.4" y1="531.0" x2="265.4" y2="531.0" stroke="#0a0a0a" stroke-width="0.8" stroke-linecap="butt"/>
<text x="262" y="534.7" font-family='"Liberation Serif", serif' font-size="13.5" text-anchor="end" font-weight="normal" font-style="normal" fill="#0a0a0a" stroke="#0a0a0a" stroke-width="0.324">100</text>
<text x="241.5" y="582.6" font-family='"Liberation Serif", serif' font-size="16.4" text-anchor="middle" font-weight="normal" font-style="normal" fill="#0a0a0a" stroke="#0a0a0a" stroke-width="0.394" transform="rotate(-90 241.5 582.6)">% Survival</text>
<polyline fill="none" stroke="#0a0a0a" stroke-width="1.3" points="265.5,531 278.25,531 293.25,531 315,531 346.25,555.5 378.1,566.8 420.7,603.2 431.7,614.2 461.8,614.2"/>
<polyline fill="none" stroke="#0a0a0a" stroke-width="1.3" stroke-dasharray="4 2.2" points="265.5,531 278.25,544.25 293.25,544.25 313.25,580.75 349.5,653.9"/>
<rect x="263.3" y="528.8" width="4.4" height="4.4" fill="#0a0a0a"/>
<rect x="276.05" y="528.8" width="4.4" height="4.4" fill="#0a0a0a"/>
<rect x="291.05" y="528.8" width="4.4" height="4.4" fill="#0a0a0a"/>
<rect x="312.8" y="528.8" width="4.4" height="4.4" fill="#0a0a0a"/>
<rect x="344.05" y="553.3" width="4.4" height="4.4" fill="#0a0a0a"/>
<rect x="375.90000000000003" y="564.5999999999999" width="4.4" height="4.4" fill="#0a0a0a"/>
<rect x="418.5" y="601.0" width="4.4" height="4.4" fill="#0a0a0a"/>
<rect x="429.5" y="612.0" width="4.4" height="4.4" fill="#0a0a0a"/>
<rect x="459.6" y="612.0" width="4.4" height="4.4" fill="#0a0a0a"/>
<rect x="276.05" y="542.05" width="4.4" height="4.4" fill="#0a0a0a"/>
<rect x="291.05" y="542.05" width="4.4" height="4.4" fill="#0a0a0a"/>
<rect x="311.05" y="578.55" width="4.4" height="4.4" fill="#0a0a0a"/>
<rect x="347.3" y="651.6999999999999" width="4.4" height="4.4" fill="#0a0a0a"/>
<text x="265.7" y="674.3" font-family='"Liberation Serif", serif' font-size="13.6" text-anchor="middle" font-weight="normal" font-style="normal" fill="#0a0a0a" stroke="#0a0a0a" stroke-width="0.326">0</text>
<text x="300.4" y="674.3" font-family='"Liberation Serif", serif' font-size="13.6" text-anchor="middle" font-weight="normal" font-style="normal" fill="#0a0a0a" stroke="#0a0a0a" stroke-width="0.326">10</text>
<text x="333.9" y="674.3" font-family='"Liberation Serif", serif' font-size="13.6" text-anchor="middle" font-weight="normal" font-style="normal" fill="#0a0a0a" stroke="#0a0a0a" stroke-width="0.326">20</text>
<text x="369.2" y="674.3" font-family='"Liberation Serif", serif' font-size="13.6" text-anchor="middle" font-weight="normal" font-style="normal" fill="#0a0a0a" stroke="#0a0a0a" stroke-width="0.326">30</text>
<text x="404.5" y="674.3" font-family='"Liberation Serif", serif' font-size="13.6" text-anchor="middle" font-weight="normal" font-style="normal" fill="#0a0a0a" stroke="#0a0a0a" stroke-width="0.326">40</text>
<text x="439.3" y="674.3" font-family='"Liberation Serif", serif' font-size="13.6" text-anchor="middle" font-weight="normal" font-style="normal" fill="#0a0a0a" stroke="#0a0a0a" stroke-width="0.326">50</text>
<text x="470.7" y="674.3" font-family='"Liberation Serif", serif' font-size="14" text-anchor="start" font-weight="normal" font-style="normal" fill="#0a0a0a" stroke="#0a0a0a" stroke-width="0.336">60 hours</text>
<text x="431.7" y="604.6" font-family='"Liberation Serif", serif' font-size="12" text-anchor="start" font-weight="normal" font-style="normal" fill="#0a0a0a" stroke="#0a0a0a" stroke-width="0.288">wt + GBS</text>
<text x="349.8" y="644.5" font-family='"Liberation Serif", serif' font-size="12.4" text-anchor="start" font-weight="normal" font-style="normal" fill="#0a0a0a" stroke="#0a0a0a" stroke-width="0.298">RAG<tspan font-size="6.5" dy="-4.6">-/-</tspan><tspan dy="4.6"> + GBS</tspan></text>
</svg>
</body></html>
